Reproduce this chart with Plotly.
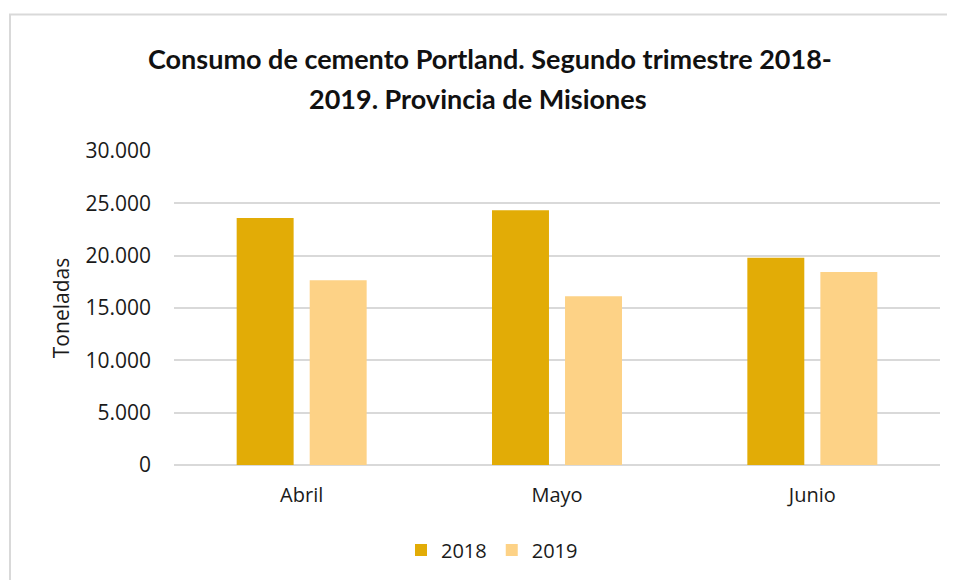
import plotly.graph_objects as go

months = ["Abril", "Mayo", "Junio"]
values_2018 = [23600, 24350, 19800]
values_2019 = [17650, 16120, 18450]
series_names = ["2018", "2019"]
tick_vals = [0, 5000, 10000, 15000, 20000, 25000, 30000]

title_line1 = "Consumo de cemento Portland. Segundo trimestre 2018-"
title_line2 = "2019. Provincia de Misiones"
y_title = "Toneladas"

c2018 = "#E2AC06"
c2019 = "#FDD286"
grid = "#D9D9D9"
body_font = "Open Sans"
title_font = "Lato"

# page body has an 8px margin; work in window pixels
OFF = 8
WIN_W, WIN_H = 955, 580
W, H = WIN_W - OFF, WIN_H - OFF
plot_left, plot_right, plot_top, plot_bottom = 174, 940, 151, 466
L, R, T, B = plot_left - OFF, WIN_W - plot_right, plot_top - OFF, WIN_H - plot_bottom
pw, ph = plot_right - plot_left, plot_bottom - plot_top

def px_x(x):
    return (x - plot_left) / pw

def px_y(y):
    return (plot_bottom - y) / ph

fig = go.Figure()
fig.add_trace(go.Bar(x=months, y=values_2018, name=series_names[0],
                     marker=dict(color=c2018, line=dict(width=0))))
fig.add_trace(go.Bar(x=months, y=values_2019, name=series_names[1],
                     marker=dict(color=c2019, line=dict(width=0))))

fig.update_layout(
    width=W, height=H,
    margin=dict(l=L, r=R, t=T, b=B),
    paper_bgcolor="white", plot_bgcolor="white",
    separators=",.",
    barmode="group", bargap=0.428, bargroupgap=0.22,
    font=dict(family=body_font, color="#1a1a1a", size=19),
    showlegend=True,
    legend=dict(orientation="h", x=px_x(492), xanchor="center",
                y=px_y(550), yanchor="middle",
                font=dict(size=20, family=body_font), itemwidth=30,
                traceorder="normal"),
    xaxis=dict(showgrid=False, showline=False, ticks="",
               ticklabelstandoff=16,
               tickfont=dict(size=20, family=body_font)),
    yaxis=dict(range=[0, 30000], tickvals=tick_vals, tickformat=",d",
               showgrid=True, gridcolor=grid, gridwidth=1.5,
               zeroline=True, zerolinecolor=grid, zerolinewidth=1.5,
               showline=False, ticks="", ticklabelstandoff=22,
               tickfont=dict(size=21, family=body_font),
               title=dict(text=y_title, font=dict(size=21, family=body_font), standoff=10)),
    annotations=[
        dict(text="<b>" + title_line1 + "</b>", xref="paper", yref="paper",
             x=px_x(490), y=px_y(58), xanchor="center", yanchor="middle",
             showarrow=False, font=dict(size=27, family=title_font, color="#111")),
        dict(text="<b>" + title_line2 + "</b>", xref="paper", yref="paper",
             x=px_x(478), y=px_y(98), xanchor="center", yanchor="middle",
             showarrow=False, font=dict(size=27, family=title_font, color="#111")),
    ],
    shapes=[
        dict(type="rect", xref="paper", yref="paper",
             x0=px_x(10), x1=px_x(952), y0=px_y(600), y1=px_y(14),
             line=dict(color=grid, width=2), fillcolor="rgba(0,0,0,0)", layer="below"),
    ],
)

fig.write_html("out.html")
